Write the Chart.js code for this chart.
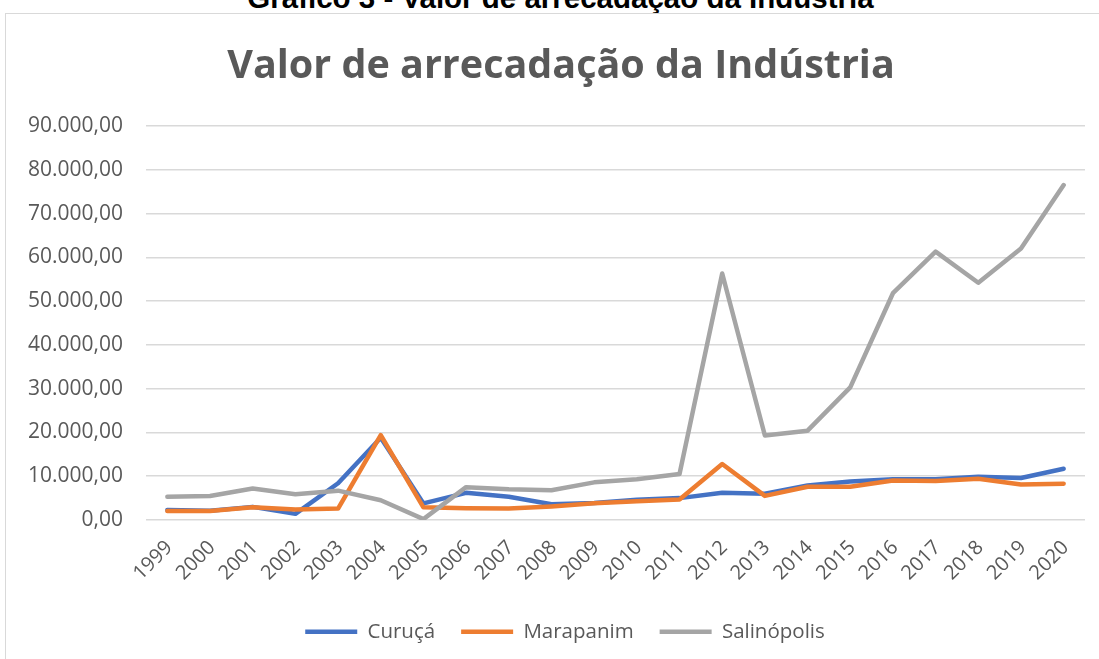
<!DOCTYPE html>
<html>
<head>
<meta charset="utf-8">
<script src="https://cdn.jsdelivr.net/npm/chart.js@4"></script>
<style>
  html, body { margin: 0; background: #fff; overflow: hidden; width: 1099px; height: 659px; }
  #page { position: relative; width: 1099px; height: 659px; overflow: hidden; }
  #heading {
    position: absolute; left: 0; top: -17px; width: 1121px;
    text-align: center; font: bold 29.5px "Liberation Sans", Arial, sans-serif;
    line-height: 29px; color: #000;
  }
  #box {
    position: absolute; left: 5px; top: 13px; width: 1200px; height: 700px;
    border: 1.5px solid #d9d9d9;
  }
  #myChart { position: absolute; left: 0; top: 0; }
</style>
</head>
<body>
<div id="page">
<div id="heading">Gráfico 3 - Valor de arrecadação da Indústria</div>
<div id="box"></div>
<canvas id="myChart" width="1099" height="659"></canvas>
</div>
<script>
let years = ['1999', '2000', '2001', '2002', '2003', '2004', '2005', '2006', '2007', '2008', '2009',
    '2010', '2011', '2012', '2013', '2014', '2015', '2016', '2017', '2018', '2019', '2020']

let curuca = [2300, 2100, 3000, 1400, 8400, 18800, 3800, 6200, 5300, 3600, 3900,
    4600, 5000, 6200, 6000, 7900, 8800, 9300, 9300, 9900, 9600, 11700]
let marapanim = [2050, 2050, 2900, 2400, 2600, 19400, 2900, 2700, 2600, 3100, 3800,
    4300, 4700, 12800, 5500, 7600, 7600, 9000, 8900, 9400, 8100, 8300]
let salinopolis = [5300, 5500, 7200, 5900, 6700, 4500, 200, 7500, 7000, 6800, 8600,
    9300, 10500, 56300, 19300, 20400, 30300, 51800, 61300, 54200, 62000, 76500]

let yMax = 90000
let yStep = 10000

function brNumber(v) {
    return String(v).replace(/\B(?=(\d{3})+(?!\d))/g, '.') + ',00'
}

let textColor = '#595959'
let fontFamily = '"Open Sans", sans-serif'

function series(label, data, color, order) {
    return {
        label: label,
        data: data,
        borderColor: color,
        backgroundColor: color,
        borderWidth: 4.5,
        borderCapStyle: 'round',
        borderJoinStyle: 'round',
        pointRadius: 0,
        pointHoverRadius: 0,
        tension: 0,
        order: order
    }
}

// the excel legend and title sit a bit right of the plot centre
let nudge = {
    id: 'nudge',
    afterLayout: function(chart) {
        chart.legend.left += 9
        chart.legend.right += 9
        chart.titleBlock.left += 5
        chart.titleBlock.right += 5
    }
}

let ctx = document.getElementById('myChart').getContext('2d')
let chart = new Chart(ctx, {
    type: 'line',
    data: {
        labels: years,
        datasets: [
            series('Curuçá', curuca, '#4472C4', 3),
            series('Marapanim', marapanim, '#ED7D31', 2),
            series('Salinópolis', salinopolis, '#A5A5A5', 1)
        ]
    },
    plugins: [nudge],
    options: {
        responsive: false,
        animation: false,
        layout: { padding: { left: 27, right: 14, top: 0, bottom: 7 } },
        plugins: {
            title: {
                display: true,
                text: 'Valor de arrecadação da Indústria',
                color: textColor,
                font: { family: fontFamily, size: 39.5, weight: 'bold' },
                padding: { top: 43, bottom: 35.6 }
            },
            legend: {
                position: 'bottom',
                labels: {
                    color: textColor,
                    font: { family: fontFamily, size: 20.5 },
                    usePointStyle: true,
                    pointStyle: 'line',
                    pointStyleWidth: 52,
                    padding: 26,
                    sort: (a, b) => a.datasetIndex - b.datasetIndex
                }
            },
            tooltip: { enabled: false }
        },
        scales: {
            x: {
                offset: true,
                grid: { display: false },
                border: { display: false },
                ticks: {
                    color: textColor,
                    font: { family: fontFamily, size: 20 },
                    minRotation: 45,
                    maxRotation: 45,
                    autoSkip: false,
                    padding: 8,
                    labelOffset: 2
                },
                afterFit: function(scale) { scale.height = 75.5 }
            },
            y: {
                min: 0,
                max: yMax,
                grid: { color: '#d9d9d9', lineWidth: 1.5, drawTicks: false },
                border: { display: false },
                ticks: {
                    stepSize: yStep,
                    color: textColor,
                    font: { family: fontFamily, size: 21 },
                    padding: 23,
                    callback: function(value) { return brNumber(value) }
                },
                afterFit: function(scale) { scale.width = 119 }
            }
        }
    }
})
</script>
</body>
</html>
